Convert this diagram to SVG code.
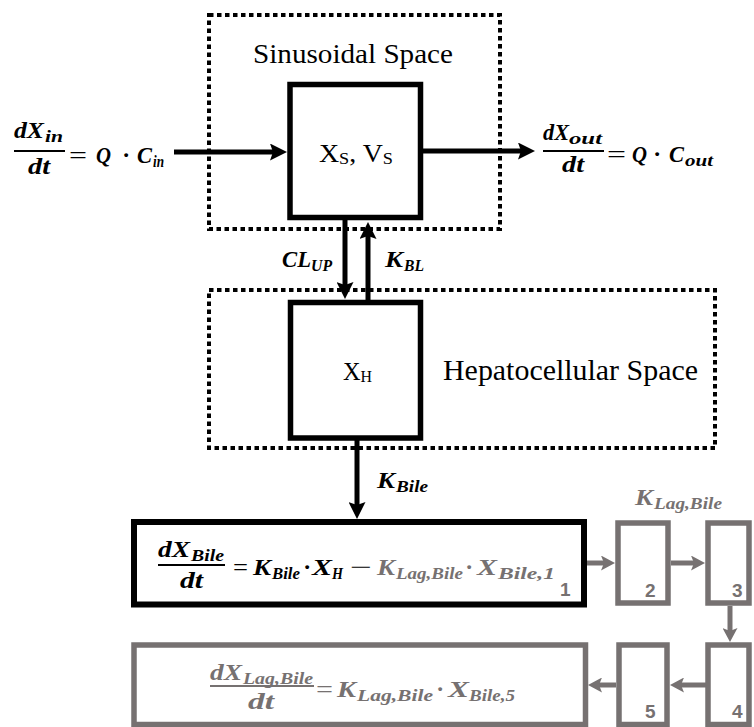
<svg xmlns="http://www.w3.org/2000/svg" width="754" height="727" viewBox="0 0 754 727">
<style>
.bg{fill:#fff}
.dot{fill:none;stroke:#000;stroke-width:4;stroke-dasharray:4.5 3.5}
.box{fill:#fff;stroke:#000;stroke-width:5.5}
.gbox{fill:#fff;stroke:#767171;stroke-width:5.5}
.bbox{fill:#fff;stroke:#000;stroke-width:6}
.ln{stroke:#000;stroke-width:5;fill:none}
.gln{stroke:#767171;stroke-width:5;fill:none}
.bar{stroke:#000;stroke-width:2}
.gbar{stroke:#767171;stroke-width:2}
.t{font-family:"Liberation Serif",serif;fill:#000}
.m{font-family:"Liberation Serif",serif;font-weight:bold;font-style:italic;fill:#000;font-size:24px}
.s{font-size:16px}
.u{font-style:normal;font-weight:normal}
.g{fill:#767171}
.n{font-family:"Liberation Sans",sans-serif;font-weight:bold;fill:#767171;font-size:19px}
</style>
<defs>
<marker id="ah" viewBox="0 0 17 17" markerWidth="17" markerHeight="17" markerUnits="userSpaceOnUse" refX="3" refY="8.5" orient="auto">
<path d="M0,0 L17,8.5 L0,17 L3,8.5 z" fill="#000"/>
</marker>
<marker id="gah" viewBox="0 0 14 15" markerWidth="14" markerHeight="15" markerUnits="userSpaceOnUse" refX="3" refY="7.5" orient="auto">
<path d="M0,0 L14,7.5 L0,15 L3,7.5 z" fill="#767171"/>
</marker>
</defs>
<rect class="bg" x="0" y="0" width="754" height="727"/>

<g id="sinusoidal-space">
<rect class="dot" x="209" y="15" width="291" height="214"/>
<text class="t" x="253" y="63" font-size="28" textLength="200" lengthAdjust="spacingAndGlyphs">Sinusoidal Space</text>
</g>

<g id="hepatocellular-space">
<rect class="dot" x="209" y="290" width="506" height="158"/>
<text class="t" x="443" y="380" font-size="29" textLength="255" lengthAdjust="spacingAndGlyphs">Hepatocellular Space</text>
</g>

<g id="node-xs">
<rect class="box" x="290" y="84.5" width="130.5" height="133"/>
<text class="t" x="319" y="162" font-size="26" textLength="74" lengthAdjust="spacingAndGlyphs">X<tspan font-size="17" dy="2">S</tspan><tspan dy="-2">, V</tspan><tspan font-size="17" dy="2">S</tspan></text>
</g>

<g id="node-xh">
<rect class="box" x="290.5" y="302.5" width="130" height="135.5"/>
<text class="t" x="343" y="380" font-size="26" textLength="29" lengthAdjust="spacingAndGlyphs">X<tspan font-size="17" dy="2">H</tspan></text>
</g>

<g id="node-bile">
<rect class="bbox" x="134" y="522" width="450" height="82.5"/>
<text class="m" x="158" y="557" textLength="32" lengthAdjust="spacingAndGlyphs">dX</text>
<text class="m s" x="191" y="561" textLength="33" lengthAdjust="spacingAndGlyphs">Bile</text>
<line class="bar" x1="158" y1="565" x2="225" y2="565"/>
<text class="m" x="180" y="588" textLength="23" lengthAdjust="spacingAndGlyphs">dt</text>
<text class="m u" x="233" y="575" textLength="15" lengthAdjust="spacingAndGlyphs">=</text>
<text class="m" x="253" y="575" textLength="18" lengthAdjust="spacingAndGlyphs">K</text>
<text class="m s" x="272" y="579" textLength="28" lengthAdjust="spacingAndGlyphs">Bile</text>
<text class="m" x="304" y="575">·</text>
<text class="m" x="312" y="575" textLength="20" lengthAdjust="spacingAndGlyphs">X</text>
<text class="m s" x="332" y="579" textLength="11" lengthAdjust="spacingAndGlyphs">H</text>
<text class="m u" x="350" y="575" textLength="22" lengthAdjust="spacingAndGlyphs">−</text>
<text class="m g" x="377" y="575" textLength="18" lengthAdjust="spacingAndGlyphs">K</text>
<text class="m s g" x="396" y="579" textLength="67" lengthAdjust="spacingAndGlyphs">Lag,Bile</text>
<text class="m g" x="466" y="575">·</text>
<text class="m g" x="477" y="575" textLength="20" lengthAdjust="spacingAndGlyphs">X</text>
<text class="m s g" x="498" y="579" textLength="57" lengthAdjust="spacingAndGlyphs">Bile,1</text>
<text class="n" x="560" y="596">1</text>
</g>

<g id="node-2">
<rect class="gbox" x="618" y="523" width="50" height="80"/>
<text class="n" x="645" y="597">2</text>
</g>
<g id="node-3">
<rect class="gbox" x="708" y="523" width="41" height="80"/>
<text class="n" x="732" y="597">3</text>
</g>
<g id="node-4">
<rect class="gbox" x="708" y="645" width="41" height="79.5"/>
<text class="n" x="732" y="718">4</text>
</g>
<g id="node-5">
<rect class="gbox" x="619" y="645" width="48" height="79.5"/>
<text class="n" x="645" y="718">5</text>
</g>

<g id="node-lag">
<rect class="gbox" x="134" y="645" width="451.5" height="79.5"/>
<text class="m g" x="210" y="680" textLength="32" lengthAdjust="spacingAndGlyphs">dX</text>
<text class="m s g" x="243" y="684" textLength="70" lengthAdjust="spacingAndGlyphs">Lag,Bile</text>
<line class="gbar" x1="210" y1="686" x2="314" y2="686"/>
<text class="m g" x="248" y="709" textLength="26" lengthAdjust="spacingAndGlyphs">dt</text>
<text class="m u g" x="316" y="697" textLength="17" lengthAdjust="spacingAndGlyphs">=</text>
<text class="m g" x="337" y="697" textLength="19" lengthAdjust="spacingAndGlyphs">K</text>
<text class="m s g" x="357" y="701" textLength="76" lengthAdjust="spacingAndGlyphs">Lag,Bile</text>
<text class="m g" x="437" y="697">·</text>
<text class="m g" x="448" y="697" textLength="21" lengthAdjust="spacingAndGlyphs">X</text>
<text class="m s g" x="469" y="701" textLength="46" lengthAdjust="spacingAndGlyphs">Bile,5</text>
</g>

<g id="eq-in">
<text class="m" x="14" y="138" textLength="30" lengthAdjust="spacingAndGlyphs">dX</text>
<text class="m s" x="45" y="142" textLength="18" lengthAdjust="spacingAndGlyphs">in</text>
<line class="bar" x1="14" y1="151" x2="65" y2="151"/>
<text class="m" x="28" y="174" textLength="22" lengthAdjust="spacingAndGlyphs">dt</text>
<text class="m u" x="69" y="163" textLength="18" lengthAdjust="spacingAndGlyphs">=</text>
<text class="m" x="96" y="163" textLength="15" lengthAdjust="spacingAndGlyphs">Q</text>
<text class="m" x="123" y="163">·</text>
<text class="m" x="137" y="163" textLength="15" lengthAdjust="spacingAndGlyphs">C</text>
<text class="m s" x="153" y="167" textLength="11" lengthAdjust="spacingAndGlyphs">in</text>
</g>

<g id="eq-out">
<text class="m" x="543" y="140" textLength="26" lengthAdjust="spacingAndGlyphs">dX</text>
<text class="m s" x="569" y="144" textLength="33" lengthAdjust="spacingAndGlyphs">out</text>
<line class="bar" x1="543" y1="151" x2="604" y2="151"/>
<text class="m" x="562" y="172" textLength="22" lengthAdjust="spacingAndGlyphs">dt</text>
<text class="m u" x="607" y="162" textLength="19" lengthAdjust="spacingAndGlyphs">=</text>
<text class="m" x="632" y="162" textLength="15" lengthAdjust="spacingAndGlyphs">Q</text>
<text class="m" x="654" y="162">·</text>
<text class="m" x="669" y="162" textLength="15" lengthAdjust="spacingAndGlyphs">C</text>
<text class="m s" x="685" y="166" textLength="28" lengthAdjust="spacingAndGlyphs">out</text>
</g>

<g id="connectors">
<line class="ln" x1="174" y1="152" x2="273" y2="152" marker-end="url(#ah)"/>
<line class="ln" x1="421" y1="151" x2="521" y2="151" marker-end="url(#ah)"/>
<line class="ln" x1="345" y1="220" x2="345" y2="285" marker-end="url(#ah)"/>
<line class="ln" x1="368" y1="300" x2="368" y2="236" marker-end="url(#ah)"/>
<line class="ln" x1="357" y1="440" x2="357" y2="505" marker-end="url(#ah)"/>
<line class="gln" x1="587" y1="563" x2="604" y2="563" marker-end="url(#gah)"/>
<line class="gln" x1="671" y1="563" x2="694" y2="563" marker-end="url(#gah)"/>
<line class="gln" x1="730" y1="606" x2="730" y2="631" marker-end="url(#gah)"/>
<line class="gln" x1="706" y1="685" x2="681" y2="685" marker-end="url(#gah)"/>
<line class="gln" x1="616" y1="685" x2="599" y2="685" marker-end="url(#gah)"/>
</g>

<g id="connector-labels">
<text class="m" x="282" y="267" textLength="29" lengthAdjust="spacingAndGlyphs">CL</text>
<text class="m s" x="311" y="271" textLength="21" lengthAdjust="spacingAndGlyphs">UP</text>
<text class="m" x="385" y="267" textLength="18" lengthAdjust="spacingAndGlyphs">K</text>
<text class="m s" x="404" y="271" textLength="20" lengthAdjust="spacingAndGlyphs">BL</text>
<text class="m" x="377" y="488" textLength="18" lengthAdjust="spacingAndGlyphs">K</text>
<text class="m s" x="396" y="492" textLength="32" lengthAdjust="spacingAndGlyphs">Bile</text>
<text class="m g" x="635" y="505" textLength="18" lengthAdjust="spacingAndGlyphs">K</text>
<text class="m s g" x="654" y="509" textLength="68" lengthAdjust="spacingAndGlyphs">Lag,Bile</text>
</g>
</svg>
